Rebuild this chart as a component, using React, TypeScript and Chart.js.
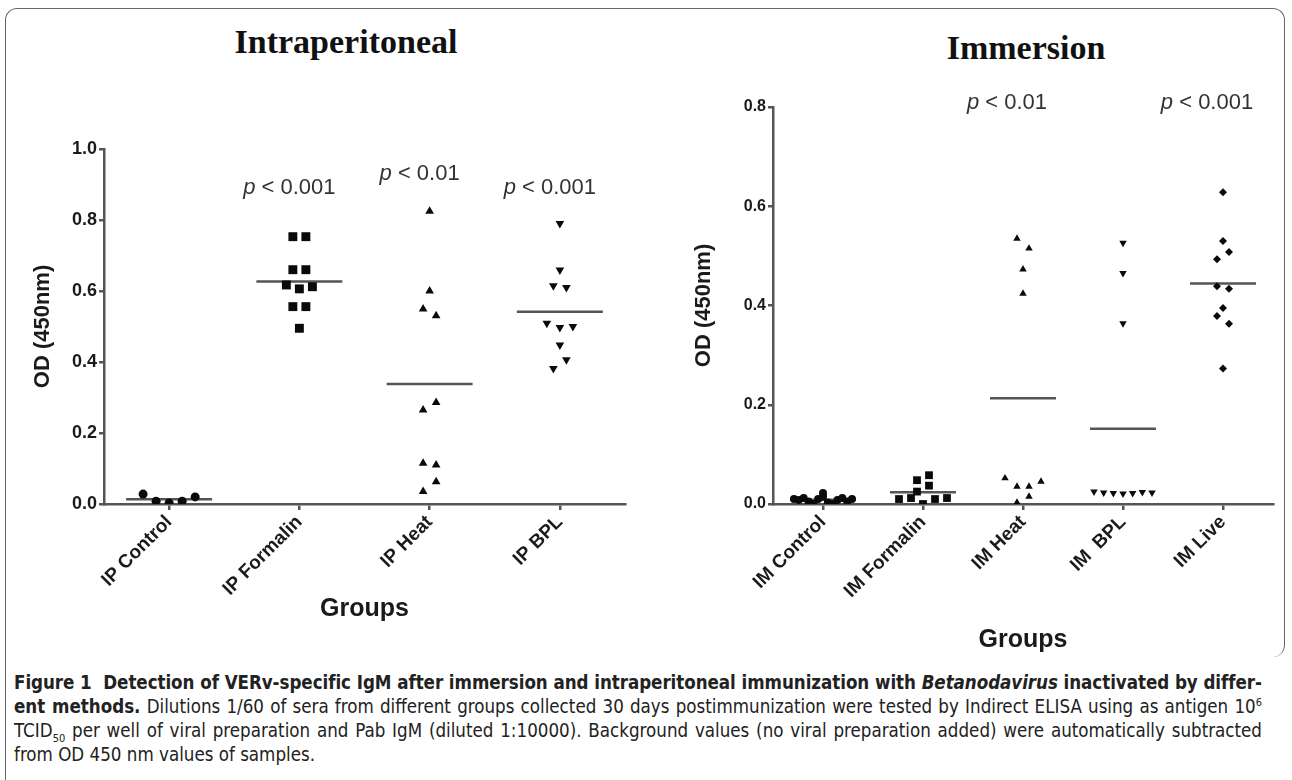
import React, { useEffect, useRef } from 'react';
import { Chart, registerables } from 'chart.js';

Chart.register(...registerables);

// ---------- Intraperitoneal data ----------
const ipGroups = ['IP Control', 'IP Formalin', 'IP Heat', 'IP BPL'];
const ipControl = [0.028, 0.008, 0.003, 0.008, 0.02];
const ipFormalin = [0.753, 0.753, 0.66, 0.66, 0.617, 0.606, 0.612, 0.556, 0.556, 0.495];
const ipHeat = [0.825, 0.6, 0.549, 0.53, 0.265, 0.286, 0.115, 0.11, 0.035, 0.063];
const ipBPL = [0.79, 0.659, 0.615, 0.61, 0.509, 0.497, 0.5, 0.448, 0.382, 0.406];
const ipTicks = [0, 0.2, 0.4, 0.6, 0.8, 1.0];
const ipPLabels = ['', 'p < 0.001', 'p < 0.01', 'p < 0.001'];
const ipPLabelY = [0, 0.89, 0.93, 0.89];

// ---------- Immersion data ----------
const imGroups = ['IM Control', 'IM Formalin', 'IM Heat', 'IM  BPL', 'IM Live'];
const imControl = [0.01, 0.008, 0.012, 0.005, 0.0, 0.01, 0.015, 0.003, 0.0, 0.022, 0.008, 0.012, 0.005, 0.01];
const imFormalin = [0.025, 0.01, 0.012, 0.048, 0.037, 0.0, 0.058, 0.01, 0.012];
const imHeat = [0.535, 0.515, 0.473, 0.424, 0.052, 0.035, 0.035, 0.045, 0.003, 0.015];
const imBPL = [0.526, 0.465, 0.364, 0.025, 0.023, 0.022, 0.021, 0.022, 0.024, 0.023];
const imLive = [0.628, 0.53, 0.493, 0.508, 0.439, 0.434, 0.395, 0.379, 0.363, 0.273];
const imTicks = [0, 0.2, 0.4, 0.6, 0.8];
const imPLabels = ['', '', 'p < 0.01', '', 'p < 0.001'];
const imPLabelY = [0, 0, 0.808, 0, 0.808];

type Marker = { style: string; radius: number; rotation: number };

const ipMarkers: Marker[] = [
  { style: 'circle', radius: 4.5, rotation: 0 },
  { style: 'rect', radius: 6.3, rotation: 0 },
  { style: 'triangle', radius: 5, rotation: 0 },
  { style: 'triangle', radius: 5, rotation: 180 },
];
const imMarkers: Marker[] = [
  { style: 'circle', radius: 4, rotation: 0 },
  { style: 'rect', radius: 5.5, rotation: 0 },
  { style: 'triangle', radius: 4.3, rotation: 0 },
  { style: 'triangle', radius: 4.3, rotation: 180 },
  { style: 'rectRot', radius: 4, rotation: 0 },
];

// Row-based scatter layout (like GraphPad): values closer than `rowH` share a row
// and are spread symmetrically around the category centre.
function swarm(values: number[], center: number, rowH: number, step: number, maxW: number) {
  const idx = values.map((_, i) => i).sort((a, b) => values[a] - values[b]);
  const rows: number[][] = [];
  let cur: number[] = [];
  idx.forEach((k) => {
    if (cur.length && values[k] - values[cur[0]] >= rowH) {
      rows.push(cur);
      cur = [];
    }
    cur.push(k);
  });
  if (cur.length) rows.push(cur);
  const out: { x: number; y: number }[] = [];
  rows.forEach((row) => {
    const ordered = row.slice().sort((a, b) => a - b);
    const n = ordered.length;
    const s = n > 1 ? Math.min(step, maxW / (n - 1)) : 0;
    ordered.forEach((k, j) => out.push({ x: center + (j - (n - 1) / 2) * s, y: values[k] }));
  });
  return out;
}

const mean = (a: number[]) => a.reduce((s, v) => s + v, 0) / a.length;

interface PanelOpts {
  groups: string[];
  series: number[][];
  markers: Marker[];
  yMax: number;
  yTicks: number[];
  pLabels: string[];
  pLabelY: number[];
  rowH: number;
  step: number;
  maxW: number;
  padding: { top: number; right: number; left: number; bottom: number };
  yWidth: number;
  xHeight: number;
  yTickSize: number;
  xTickSize: number;
  yTitlePad: number;
  xTitlePad: number;
  pShift: number;
}

function buildConfig(o: PanelOpts): any {
  const datasets: any[] = [];
  o.series.forEach((vals, i) => {
    const m = o.markers[i];
    datasets.push({
      type: 'scatter',
      data: swarm(vals, i, o.rowH, o.step, o.maxW),
      pointStyle: m.style,
      pointRadius: m.radius,
      pointRotation: m.rotation,
      backgroundColor: '#0a0a0a',
      borderColor: '#0a0a0a',
      borderWidth: 0,
    });
  });
  o.series.forEach((vals, i) => {
    const mv = mean(vals);
    datasets.push({
      type: 'line',
      data: [
        { x: i - 0.33, y: mv },
        { x: i + 0.33, y: mv },
      ],
      borderColor: '#555',
      borderWidth: 2.5,
      pointRadius: 0,
      fill: false,
    });
  });

  const pPlugin = {
    id: 'pLabels',
    afterDraw(chart: any) {
      const ctx = chart.ctx;
      const xs = chart.scales.x;
      const ys = chart.scales.y;
      ctx.save();
      ctx.fillStyle = '#333';
      ctx.textBaseline = 'middle';
      o.pLabels.forEach((lab, i) => {
        if (!lab) return;
        const cx = xs.getPixelForValue(i) + o.pShift;
        const cy = ys.getPixelForValue(o.pLabelY[i]);
        const head = lab.slice(0, 1);
        const rest = lab.slice(1);
        ctx.font = 'italic 22px "Liberation Sans", Arial, sans-serif';
        const w1 = ctx.measureText(head).width;
        ctx.font = '22px "Liberation Sans", Arial, sans-serif';
        const w2 = ctx.measureText(rest).width;
        const x0 = cx - (w1 + w2) / 2;
        ctx.textAlign = 'left';
        ctx.font = 'italic 22px "Liberation Sans", Arial, sans-serif';
        ctx.fillText(head, x0, cy);
        ctx.font = '22px "Liberation Sans", Arial, sans-serif';
        ctx.fillText(rest, x0 + w1, cy);
      });
      ctx.restore();
    },
  };

  const font = (size: number) => ({ family: '"Liberation Sans", Arial, sans-serif', size, weight: 'bold' as const });

  return {
    type: 'scatter',
    data: { datasets },
    plugins: [pPlugin],
    options: {
      animation: false,
      responsive: false,
      maintainAspectRatio: false,
      layout: { padding: o.padding },
      plugins: { legend: { display: false }, tooltip: { enabled: false }, title: { display: false } },
      scales: {
        x: {
          type: 'linear',
          min: -0.5,
          max: o.groups.length - 0.5,
          afterBuildTicks: (s: any) => {
            s.ticks = o.groups.map((_, i) => ({ value: i }));
          },
          afterFit: (s: any) => {
            s.height = o.xHeight;
          },
          ticks: {
            autoSkip: false,
            minRotation: 45,
            maxRotation: 45,
            padding: 1,
            color: '#1a1a1a',
            font: font(o.xTickSize),
            callback: (v: any) => o.groups[Math.round(Number(v))] ?? '',
          },
          grid: { display: true, drawOnChartArea: false, drawTicks: true, tickLength: 6, color: '#555', lineWidth: 2.5 },
          border: { display: true, color: '#555', width: 2.5 },
          title: { display: true, text: 'Groups', color: '#1a1a1a', font: font(25), padding: { top: 0, bottom: o.xTitlePad } },
        },
        y: {
          type: 'linear',
          min: 0,
          max: o.yMax,
          afterBuildTicks: (s: any) => {
            s.ticks = o.yTicks.map((v) => ({ value: v }));
          },
          afterFit: (s: any) => {
            s.width = o.yWidth;
          },
          ticks: {
            padding: 2,
            color: '#1a1a1a',
            font: font(o.yTickSize),
            callback: (v: any) => Number(v).toFixed(1),
          },
          grid: { display: true, drawOnChartArea: false, drawTicks: true, tickLength: 5, color: '#555', lineWidth: 2.5 },
          border: { display: true, color: '#555', width: 2.5 },
          title: { display: true, text: 'OD (450nm)', color: '#1a1a1a', font: font(22), padding: { top: o.yTitlePad, bottom: 0 } },
        },
      },
    },
  };
}

function Panel(props: { opts: PanelOpts; left: number; width: number; height: number }) {
  const ref = useRef<HTMLCanvasElement | null>(null);
  useEffect(() => {
    if (!ref.current) return;
    const chart = new Chart(ref.current, buildConfig(props.opts));
    return () => chart.destroy();
  }, []);
  return (
    <canvas
      ref={ref}
      width={props.width}
      height={props.height}
      style={{ position: 'absolute', left: props.left, top: 0, width: props.width, height: props.height }}
    />
  );
}

const ipOpts: PanelOpts = {
  groups: ipGroups,
  series: [ipControl, ipFormalin, ipHeat, ipBPL],
  markers: ipMarkers,
  yMax: 1.0,
  yTicks: ipTicks,
  pLabels: ipPLabels,
  pLabelY: ipPLabelY,
  rowH: 0.03,
  step: 0.1,
  maxW: 0.62,
  padding: { top: 149, right: 21, left: 0, bottom: 0 },
  yWidth: 104,
  xHeight: 156,
  yTickSize: 18,
  xTickSize: 19,
  yTitlePad: 30,
  xTitlePad: 36,
  pShift: -10,
};

const imOpts: PanelOpts = {
  groups: imGroups,
  series: [imControl, imFormalin, imHeat, imBPL, imLive],
  markers: imMarkers,
  yMax: 0.8,
  yTicks: imTicks,
  pLabels: imPLabels,
  pLabelY: imPLabelY,
  rowH: 0.021,
  step: 0.12,
  maxW: 0.58,
  padding: { top: 107, right: 19, left: 0, bottom: 0 },
  yWidth: 127,
  xHeight: 156,
  yTickSize: 16,
  xTickSize: 19,
  yTitlePad: 45,
  xTitlePad: 5,
  pShift: -16,
};

export default function App() {
  const titleStyle: React.CSSProperties = {
    position: 'absolute',
    fontFamily: '"Liberation Serif", "Times New Roman", serif',
    fontWeight: 'bold',
    fontSize: 34,
    color: '#111',
    textAlign: 'center',
    width: 400,
    lineHeight: '40px',
  };
  const capStyle: React.CSSProperties = {
    position: 'absolute',
    left: 14,
    top: 671,
    width: 1248,
    fontFamily: '"DejaVu Sans Condensed", "Liberation Sans Narrow", "Liberation Sans", sans-serif',
    fontSize: 18.6,
    lineHeight: '24px',
    color: '#222',
  };
  const justLine: React.CSSProperties = { textAlign: 'justify', textAlignLast: 'justify', whiteSpace: 'normal', height: 24 };
  const plainLine: React.CSSProperties = { whiteSpace: 'nowrap', height: 24 };
  return (
    <div style={{ position: 'absolute', left: 0, top: 0, width: 1292, height: 780, overflow: 'hidden', background: '#fff' }}>
      <div
        style={{
          position: 'absolute',
          left: 5,
          top: 8,
          width: 1278,
          height: 648,
          borderTop: '1.5px solid #666',
          borderLeft: '1.5px solid #666',
          borderRight: '1.5px solid #666',
          borderTopLeftRadius: 12,
          borderTopRightRadius: 12,
          borderBottomRightRadius: 12,
        }}
      />
      <div style={{ position: 'absolute', left: 5, top: 640, width: 0, height: 140, borderLeft: '1.5px solid #666' }} />
      <div style={{ ...titleStyle, left: 146, top: 22 }}>Intraperitoneal</div>
      <div style={{ ...titleStyle, left: 826, top: 28 }}>Immersion</div>
      <Panel opts={ipOpts} left={0} width={646} height={660} />
      <Panel opts={imOpts} left={646} width={646} height={660} />
      <div style={capStyle}>
        <div style={{ ...plainLine, letterSpacing: -0.05 }}>
          <b>Figure 1&nbsp; Detection of VERv-specific IgM after immersion and intraperitoneal immunization with <i>Betanodavirus</i> inactivated by differ-</b>
        </div>
        <div style={justLine}>
          <b>ent methods.</b> Dilutions 1/60 of sera from different groups collected 30 days postimmunization were tested by Indirect ELISA using as antigen 10<sup style={{ fontSize: 11, lineHeight: 0 }}>6</sup>
        </div>
        <div style={justLine}>
          TCID<sub style={{ fontSize: 11, lineHeight: 0 }}>50</sub> per well of viral preparation and Pab IgM (diluted 1:10000). Background values (no viral preparation added) were automatically subtracted
        </div>
        <div style={plainLine}>from OD 450 nm values of samples.</div>
      </div>
    </div>
  );
}
